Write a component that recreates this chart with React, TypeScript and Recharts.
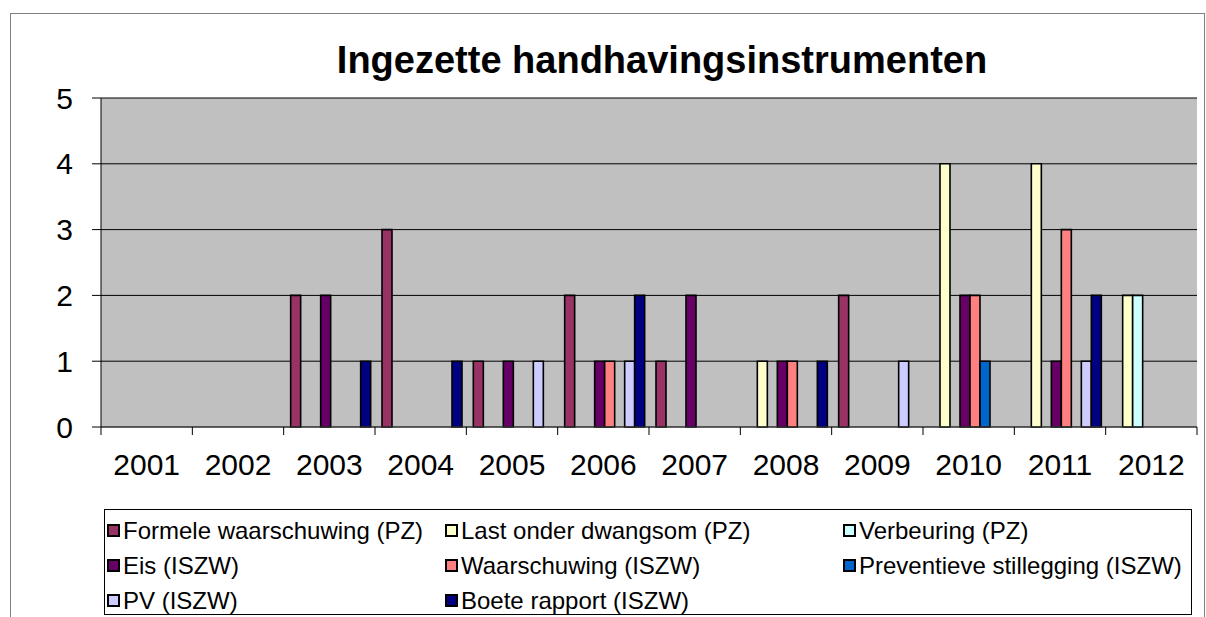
import { BarChart, Bar, XAxis, YAxis, CartesianGrid, Legend } from "recharts";

const years = ["2001", "2002", "2003", "2004", "2005", "2006", "2007", "2008", "2009", "2010", "2011", "2012"];

const formeleWaarschuwing = [0, 0, 2, 3, 1, 2, 1, 0, 2, 0, 0, 0];
const lastOnderDwangsom = [0, 0, 0, 0, 0, 0, 0, 1, 0, 4, 4, 2];
const verbeuring = [0, 0, 0, 0, 0, 0, 0, 0, 0, 0, 0, 2];
const eis = [0, 0, 2, 0, 1, 1, 2, 1, 0, 2, 1, 0];
const waarschuwing = [0, 0, 0, 0, 0, 1, 0, 1, 0, 2, 3, 0];
const preventieveStillegging = [0, 0, 0, 0, 0, 0, 0, 0, 0, 1, 0, 0];
const pv = [0, 0, 0, 0, 1, 1, 0, 0, 1, 0, 1, 0];
const boeteRapport = [0, 0, 1, 1, 0, 2, 0, 1, 0, 0, 2, 0];

const yTicks = [0, 1, 2, 3, 4, 5];

const series = [
  { key: "formele", name: "Formele waarschuwing (PZ)", color: "#993366", values: formeleWaarschuwing },
  { key: "last", name: "Last onder dwangsom (PZ)", color: "#FFFFCC", values: lastOnderDwangsom },
  { key: "verbeuring", name: "Verbeuring (PZ)", color: "#CCFFFF", values: verbeuring },
  { key: "eis", name: "Eis (ISZW)", color: "#660066", values: eis },
  { key: "waarschuwing", name: "Waarschuwing (ISZW)", color: "#FF8080", values: waarschuwing },
  { key: "preventieve", name: "Preventieve stillegging (ISZW)", color: "#0066CC", values: preventieveStillegging },
  { key: "pv", name: "PV (ISZW)", color: "#CCCCFF", values: pv },
  { key: "boete", name: "Boete rapport (ISZW)", color: "#000080", values: boeteRapport },
];

const data = years.map((year, i) => {
  const row: Record<string, string | number> = { year };
  series.forEach((s) => {
    row[s.key] = s.values[i];
  });
  return row;
});

const FONT = "'Liberation Sans', Arial, sans-serif";

function YearTick(props: any) {
  const { x, y, payload, index, visibleTicksCount } = props;
  const half = payload.offset || 0;
  return (
    <g>
      <line x1={x - half} y1={y} x2={x - half} y2={y + 8} stroke="#000" />
      {index === visibleTicksCount - 1 && (
        <line x1={x + half} y1={y} x2={x + half} y2={y + 8} stroke="#000" />
      )}
      <text x={x} y={y + 48} textAnchor="middle" fontSize={30} fontFamily={FONT} fill="#000">
        {payload.value}
      </text>
    </g>
  );
}

const legendCols = [2, 340, 738];

function LegendBox() {
  return (
    <div
      style={{
        position: "relative",
        width: 1088,
        height: 106,
        boxSizing: "border-box",
        border: "1px solid #000",
        background: "#fff",
        fontFamily: FONT,
        fontSize: 24,
        color: "#000",
      }}
    >
      {series.map((s, i) => (
        <div
          key={s.key}
          style={{
            position: "absolute",
            left: legendCols[i % 3],
            top: 3 + Math.floor(i / 3) * 35,
            height: 35,
            display: "flex",
            alignItems: "center",
            whiteSpace: "nowrap",
          }}
        >
          <span
            style={{
              display: "inline-block",
              width: 9,
              height: 9,
              border: "2px solid #000",
              background: s.color,
              marginRight: 3,
            }}
          />
          {s.name}
        </div>
      ))}
    </div>
  );
}

export default function App() {
  return (
    <div style={{ position: "absolute", left: 0, top: 0, width: 1206, height: 617, overflow: "hidden", background: "#fff" }}>
      <div
        style={{
          position: "absolute",
          left: 10,
          top: 13,
          width: 1193,
          height: 700,
          border: "1px solid #808080",
        }}
      />
      <svg style={{ position: "absolute", left: 0, top: 0 }} width={1206} height={100}>
        <text x={662} y={73} textAnchor="middle" fontSize={38} fontWeight="bold" fontFamily={FONT} fill="#000">
          Ingezette handhavingsinstrumenten
        </text>
      </svg>
      <div style={{ position: "absolute", left: 0, top: 0 }}>
        <BarChart
          width={1206}
          height={617}
          data={data}
          margin={{ top: 98, right: 9, bottom: 24, left: 0 }}
          barCategoryGap="7.66%"
          barGap={0}
        >
          <CartesianGrid vertical={false} stroke="#000" fill="#C0C0C0" />
          <XAxis
            dataKey="year"
            interval={0}
            height={60}
            tickSize={0}
            tickMargin={0}
            tickLine={false}
            tick={<YearTick />}
            axisLine={{ stroke: "#444" }}
          />
          <XAxis xAxisId="top" dataKey="year" orientation="top" height={0} tick={false} tickLine={false} axisLine={{ stroke: "#808080" }} />
          <YAxis
            domain={[0, 5]}
            ticks={yTicks}
            width={101}
            tickSize={9}
            tickMargin={19}
            tick={{ fontSize: 30, fill: "#000", fontFamily: FONT }}
            tickLine={{ stroke: "#000" }}
            axisLine={{ stroke: "#000" }}
          />
          <YAxis yAxisId="right" orientation="right" domain={[0, 5]} width={0} tick={false} tickLine={false} axisLine={{ stroke: "#808080" }} />
          <Legend
            verticalAlign="bottom"
            wrapperStyle={{ left: 104, top: 509, width: 1088 }}
            content={() => <LegendBox />}
          />
          {series.map((s) => (
            <Bar
              key={s.key}
              dataKey={s.key}
              name={s.name}
              fill={s.color}
              stroke="#000"
              strokeWidth={1.6}
              isAnimationActive={false}
            />
          ))}
        </BarChart>
      </div>
    </div>
  );
}
